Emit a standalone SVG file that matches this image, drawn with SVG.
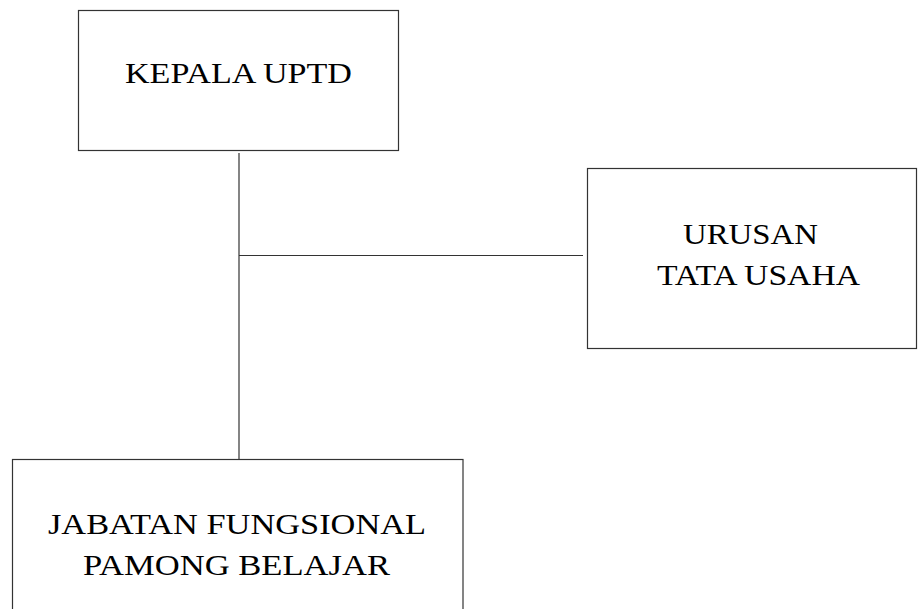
<svg xmlns="http://www.w3.org/2000/svg" width="921" height="609" viewBox="0 0 921 609">
<style>
.box{fill:#fff;stroke:#333;stroke-width:1.2}
.lbl{font-family:"Liberation Serif","DejaVu Serif",serif;font-size:29px;fill:#000}
.conn line{stroke:#333;stroke-width:1.2}
</style>
<rect width="921" height="609" fill="#fff"/>
<g class="conn" id="connectors">
<line x1="239" y1="153" x2="239" y2="459"/>
<line x1="239" y1="255.5" x2="583" y2="255.5"/>
</g>
<g id="kepala">
<rect class="box" x="78.5" y="10.5" width="320" height="140"/>
<text class="lbl" x="125" y="83" textLength="227" lengthAdjust="spacingAndGlyphs">KEPALA UPTD</text>
</g>
<g id="urusan">
<rect class="box" x="587.5" y="168.5" width="329" height="180"/>
<text class="lbl" x="683" y="244" textLength="135" lengthAdjust="spacingAndGlyphs">URUSAN</text>
<text class="lbl" x="657" y="285" textLength="203" lengthAdjust="spacingAndGlyphs">TATA USAHA</text>
</g>
<g id="jabatan">
<rect class="box" x="12.5" y="459.5" width="450.5" height="160"/>
<text class="lbl" x="48" y="534" textLength="378" lengthAdjust="spacingAndGlyphs">JABATAN FUNGSIONAL</text>
<text class="lbl" x="83" y="575" textLength="307" lengthAdjust="spacingAndGlyphs">PAMONG BELAJAR</text>
</g>
</svg>
